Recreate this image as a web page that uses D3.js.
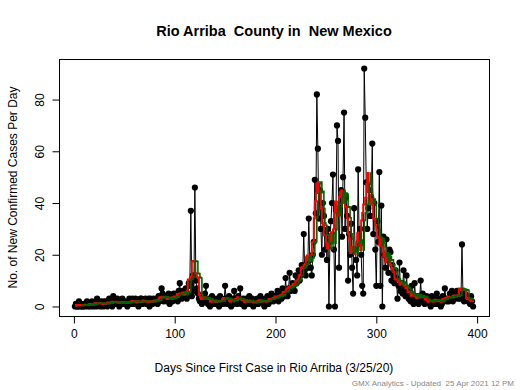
<!DOCTYPE html>
<html>
<head>
<meta charset="utf-8">
<script src="https://cdn.jsdelivr.net/npm/d3@7"></script>
<style>
  body { margin: 0; background: #fff; }
  text { font-family: "Liberation Sans", Arial, sans-serif; }
</style>
</head>
<body>
<div class="canvas"></div>
<script>
// daily new confirmed cases, day 1 = 3/25/20
const firstDay = 1;
const cases = [
  0,1,0,0,2,0,1,0,0,1,
  0,1,2,0,1,0,1,2,0,1,
  1,0,3,2,1,0,2,1,0,2,
  1,2,0,1,3,2,1,0,4,2,
  1,2,3,1,0,2,1,3,2,1,
  2,1,0,2,3,1,2,3,1,2,
  3,2,1,0,2,3,3,1,2,2,
  3,1,2,3,0,3,2,1,3,2,
  2,3,1,4,2,3,7,5,2,3,
  4,2,3,5,1,3,4,2,5,4,
  3,5,2,6,9,4,3,6,5,4,
  7,3,5,9,8,37,4,12,6,46,
  10,7,5,3,2,4,1,3,2,5,
  8,2,1,3,0,2,4,1,3,2,
  1,3,2,0,4,2,3,1,2,8,
  3,1,2,4,2,0,3,1,6,2,
  3,1,4,2,7,1,2,3,0,2,
  3,1,2,4,1,2,3,0,2,1,
  2,3,1,2,4,3,2,1,0,3,
  2,4,1,3,2,5,3,2,4,4,
  3,6,2,5,4,3,7,5,4,11,
  5,4,7,13,6,7,9,8,6,12,
  9,11,14,10,12,16,13,28,14,12,
  17,15,34,18,15,12,20,25,49,36,
  82,61,34,45,30,20,40,35,22,28,
  18,30,0,25,33,40,51,22,0,37,
  70,64,15,38,45,27,50,75,30,42,
  35,10,28,20,32,15,5,38,22,18,
  12,53,25,30,20,8,5,92,73,48,
  30,38,45,35,42,63,28,40,22,8,
  33,25,52,8,39,0,27,20,15,26,
  18,13,22,21,10,16,12,9,14,11,
  3,8,17,6,9,5,14,7,4,12,
  5,3,6,2,8,4,1,9,3,2,
  4,1,3,10,2,5,3,1,2,4,
  2,3,1,0,4,2,3,1,2,5,
  1,2,3,0,1,4,2,7,3,2,
  3,2,5,4,6,2,3,5,4,6,
  3,4,5,3,24,4,2,5,3,4,
  2,3,1,4,2,0
];
const xTicks = [0, 100, 200, 300, 400];
const yTicks = [0, 20, 40, 60, 80];

const titleText = 'Rio Arriba  County in  New Mexico';
const xLabel = 'Days Since First Case in Rio Arriba (3/25/20)';
const yLabel = 'No. of New Confirmed Cases Per Day';
const footer = 'GMX Analytics - Updated  25 Apr 2021 12 PM';

const dims = { width: 520, height: 390 };
const box = { left: 59, right: 489, top: 59, bottom: 316 };

const data = cases.map((v, i) => ({ day: firstDay + i, value: v }));

// 7-day averages: centred (red) and trailing (green)
const centred = data.map((d, i) => {
    const w = cases.slice(Math.max(0, i - 3), i + 4);
    return { day: d.day, value: d3.mean(w) };
});
const trailing = data.slice(6).map((d, i) => {
    const w = cases.slice(i, i + 7);
    return { day: d.day, value: d3.mean(w) };
});

// R style 4% padding of the data range
const xExt = d3.extent(data, d => d.day);
const xPad = (xExt[1] - xExt[0]) * 0.04;
const yMax = d3.max(cases);
const yPad = yMax * 0.04;

const x = d3.scaleLinear()
    .domain([xExt[0] - xPad, xExt[1] + xPad])
    .range([box.left, box.right]);
const y = d3.scaleLinear()
    .domain([0 - yPad, yMax + yPad])
    .range([box.bottom, box.top]);

const svg = d3.select('.canvas')
    .append('svg')
    .attr('width', dims.width)
    .attr('height', dims.height);

// title
svg.append('text')
    .attr('x', (box.left + box.right) / 2)
    .attr('y', 36)
    .attr('text-anchor', 'middle')
    .attr('font-size', 14.5)
    .attr('font-weight', 'bold')
    .style('white-space', 'pre')
    .text(titleText);

const plot = svg.append('g');

// daily series, thin black line plus dots
const line = d3.line().x(d => x(d.day)).y(d => y(d.value));
plot.append('path')
    .datum(data)
    .attr('d', line)
    .attr('fill', 'none')
    .attr('stroke', '#000')
    .attr('stroke-width', 1);

plot.selectAll('circle')
    .data(data)
    .enter()
    .append('circle')
        .attr('cx', d => x(d.day))
        .attr('cy', d => y(d.value))
        .attr('r', 3.1)
        .attr('fill', '#000');

const stepLine = d3.line()
    .x(d => x(d.day))
    .y(d => y(d.value))
    .curve(d3.curveStepAfter);

plot.append('path')
    .datum(centred)
    .attr('d', stepLine)
    .attr('fill', 'none')
    .attr('stroke', '#ff0000')
    .attr('stroke-width', 2);

plot.append('path')
    .datum(trailing)
    .attr('d', stepLine)
    .attr('fill', 'none')
    .attr('stroke', '#006400')
    .attr('stroke-width', 1.6);

// box
svg.append('rect')
    .attr('x', box.left + 0.5)
    .attr('y', box.top + 0.5)
    .attr('width', box.right - box.left)
    .attr('height', box.bottom - box.top)
    .attr('fill', 'none')
    .attr('stroke', '#000');

// axes
const xAxis = d3.axisBottom(x).tickValues(xTicks).tickSize(7).tickPadding(6);
svg.append('g')
    .attr('transform', `translate(0, ${box.bottom + 0.5})`)
    .call(xAxis)
    .call(g => g.select('.domain').attr('d', `M${x(xTicks[0])},0H${x(xTicks[xTicks.length - 1])}`))
    .call(g => g.selectAll('text').attr('font-size', 12).attr('font-family', '"Liberation Sans", Arial, sans-serif').attr('fill', '#000'));

const yAxis = d3.axisLeft(y).tickValues(yTicks).tickSize(7);
svg.append('g')
    .attr('transform', `translate(${box.left + 0.5}, 0)`)
    .call(yAxis)
    .call(g => g.select('.domain').attr('d', `M0,${y(yTicks[0])}V${y(yTicks[yTicks.length - 1])}`))
    .call(g => g.selectAll('text')
        .attr('font-size', 12)
        .attr('font-family', '"Liberation Sans", Arial, sans-serif')
        .attr('fill', '#000')
        .attr('x', null).attr('dy', null)
        .attr('text-anchor', 'middle')
        .attr('transform', 'translate(-16,0) rotate(-90)'));

// axis titles
svg.append('text')
    .attr('x', (box.left + box.right) / 2)
    .attr('y', 372)
    .attr('text-anchor', 'middle')
    .attr('font-size', 12)
    .text(xLabel);

svg.append('text')
    .attr('transform', `translate(17, ${(box.top + box.bottom) / 2}) rotate(-90)`)
    .attr('text-anchor', 'middle')
    .attr('font-size', 12)
    .text(yLabel);

svg.append('text')
    .attr('x', 514)
    .attr('y', 386)
    .attr('text-anchor', 'end')
    .attr('font-size', 8)
    .attr('fill', '#888')
    .style('white-space', 'pre')
    .text(footer);
</script>
</body>
</html>
